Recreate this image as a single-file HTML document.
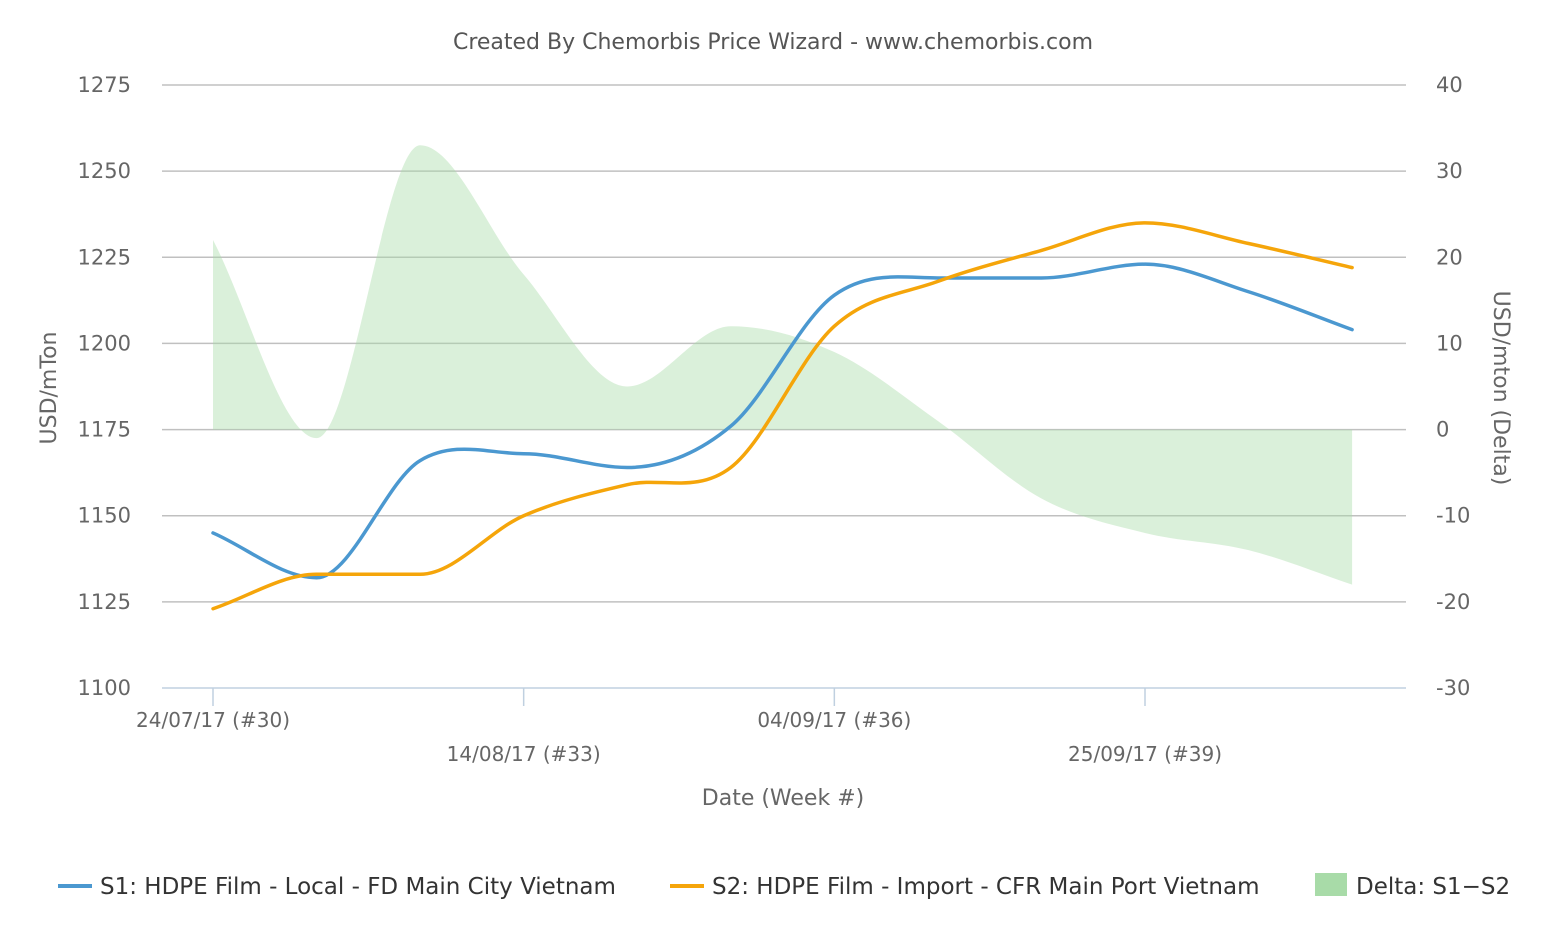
<!DOCTYPE html>
<html><head><meta charset="utf-8"><style>
body{margin:0;background:#fff;}
svg{display:block;font-family:"DejaVu Sans","Liberation Sans",sans-serif;}
</style></head><body>
<svg id="chart" width="1552" height="930" viewBox="0 0 1552 930">
<text x="773" y="49" text-anchor="middle" font-size="22" fill="#555">Created By Chemorbis Price Wizard - www.chemorbis.com</text>
<g id="grid"></g>
<g id="plot"></g>
<g id="axes"></g>
<text transform="translate(56,388) rotate(-90)" text-anchor="middle" font-size="22" fill="#666">USD/mTon</text>
<text transform="translate(1494,388) rotate(90)" text-anchor="middle" font-size="22" fill="#666">USD/mton (Delta)</text>
<text x="783" y="805" text-anchor="middle" font-size="22" fill="#666">Date (Week #)</text>
<g font-size="23" fill="#333">
<g><line x1="58" y1="886" x2="92" y2="886" stroke="#4b98d0" stroke-width="4"/><text x="100" y="894">S1: HDPE Film - Local - FD Main City Vietnam</text></g>
<g><line x1="670" y1="886" x2="704" y2="886" stroke="#f5a50a" stroke-width="4"/><text x="712" y="894">S2: HDPE Film - Import - CFR Main Port Vietnam</text></g>
<g><rect x="1315" y="873" width="32" height="23" fill="#a8dba8"/><text x="1356" y="894">Delta: S1−S2</text></g>
</g>
</svg>
<script>
const weeks=[30,31,32,33,34,35,36,37,38,39,40,41];
const s1Values=[1145,1132,1166,1168,1164,1176,1214,1219,1219,1223,1215,1204];
const s2Values=[1123,1133,1133,1150,1159,1164,1205,1218,1227,1235,1229,1222];
const leftTicks=[1100,1125,1150,1175,1200,1225,1250,1275];
const rightTicks=[-30,-20,-10,0,10,20,30,40];
const xLabels=["24/07/17 (#30)","14/08/17 (#33)","04/09/17 (#36)","25/09/17 (#39)"];
const xLabelWeeks=[30,33,36,39];
const deltaValues=s1Values.map((v,i)=>v-s2Values[i]);
const NS="http://www.w3.org/2000/svg";
const X0=162,X1=1406,YT=85,YB=688;
const x=w=>213+(w-30)*(1145-213)/9;
const yL=v=>YB-(v-1100)*(YB-YT)/175;
const yR=v=>YB-(v+30)*(YB-YT)/70;
function mk(tag,attrs,parent){const e=document.createElementNS(NS,tag);for(const k in attrs)e.setAttribute(k,attrs[k]);parent.appendChild(e);return e;}
const grid=document.getElementById('grid'),axes=document.getElementById('axes'),plot=document.getElementById('plot');
leftTicks.forEach((t,i)=>{
 if(i>0){const l=mk('line',{x1:X0,x2:X1,y1:yL(t),y2:yL(t),stroke:'#c0c0c0','stroke-width':1.5},grid);
 
 }
 const tx=mk('text',{x:131,y:yL(t)+7,'text-anchor':'end','font-size':21,fill:'#666'},axes);tx.textContent=t;
 
 
});
rightTicks.forEach(t=>{
 const tx=mk('text',{x:1436,y:yR(t)+7,'text-anchor':'start','font-size':21,fill:'#666'},axes);tx.textContent=t;
 
 
});
const xa=mk('line',{x1:X0,x2:X1,y1:YB,y2:YB,stroke:'#c0d0e0','stroke-width':1.5},axes);


xLabelWeeks.forEach((w,i)=>{
 const tk=mk('line',{x1:x(w),x2:x(w),y1:YB,y2:YB+18,stroke:'#c0d0e0','stroke-width':1.5},axes);
 
 
 const tx=mk('text',{x:x(w),y:i%2?761:727,'text-anchor':'middle','font-size':20,fill:'#666'},axes);tx.textContent=xLabels[i];
 
 
});
function spline(pts){
 const n=pts.length;let d=`M${pts[0][0]},${pts[0][1]}`;
 const m=[];const s=[];
 for(let i=0;i<n-1;i++)s.push((pts[i+1][1]-pts[i][1])/(pts[i+1][0]-pts[i][0]));
 for(let i=0;i<n;i++){
  if(i===0)m.push(s[0]);else if(i===n-1)m.push(s[n-2]);
  else m.push(s[i-1]*s[i]<=0?0:(s[i-1]+s[i])/2);
 }
 for(let i=0;i<n-1;i++){
  const h=pts[i+1][0]-pts[i][0];
  d+=` C${pts[i][0]+h/3},${pts[i][1]+m[i]*h/3} ${pts[i+1][0]-h/3},${pts[i+1][1]-m[i+1]*h/3} ${pts[i+1][0]},${pts[i+1][1]}`;
 }
 return d;
}
const dp=weeks.map((w,i)=>[x(w),yR(deltaValues[i])]);
const area=mk('path',{d:spline(dp)+` L${x(weeks[weeks.length-1])},${yR(0)} L${x(weeks[0])},${yR(0)} Z`,fill:'rgba(168,219,168,0.42)'},plot);


const p1=mk('path',{d:spline(weeks.map((w,i)=>[x(w),yL(s1Values[i])])),fill:'none',stroke:'#4b98d0','stroke-width':3.5,'stroke-linecap':'round'},plot);


const p2=mk('path',{d:spline(weeks.map((w,i)=>[x(w),yL(s2Values[i])])),fill:'none',stroke:'#f5a50a','stroke-width':3.5,'stroke-linecap':'round'},plot);


</script>
</body></html>
